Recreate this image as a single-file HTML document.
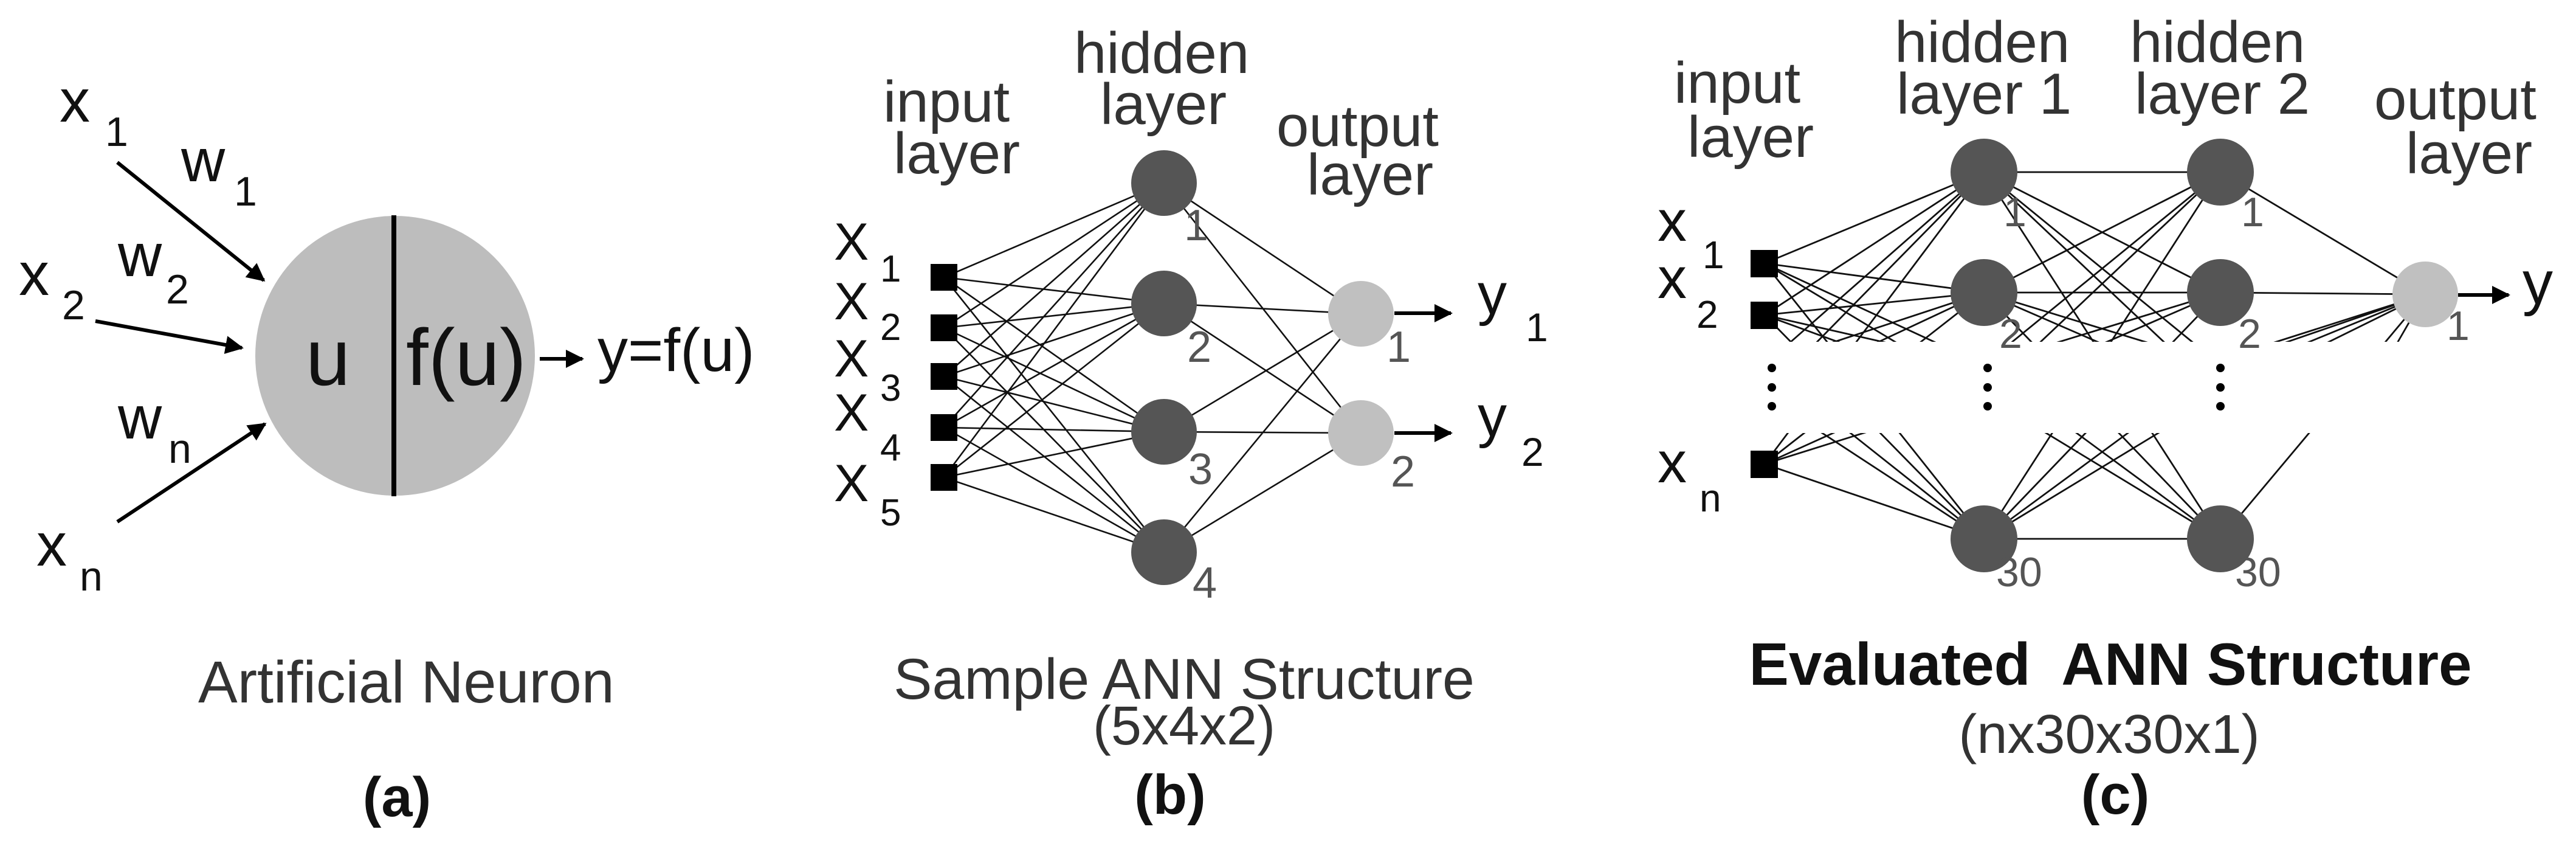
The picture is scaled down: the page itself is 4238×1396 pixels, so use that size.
<!DOCTYPE html>
<html><head><meta charset="utf-8">
<style>
html,body{margin:0;padding:0;background:#fff;}
svg{display:block;}
text{font-family:"Liberation Sans",sans-serif;}
</style></head>
<body>
<svg width="4238" height="1396" viewBox="0 0 4238 1396" xmlns="http://www.w3.org/2000/svg">
<defs>
<marker id="ah" viewBox="0 0 10 10" refX="9" refY="5" markerWidth="5" markerHeight="5" markerUnits="strokeWidth" orient="auto">
<path d="M0,0 L10,5 L0,10 z" fill="#000"/>
</marker>
</defs>
<rect width="4238" height="1396" fill="#fff"/>

<!-- (a) -->
<circle cx="650" cy="585" r="230" fill="#bdbdbd"/>
<line x1="648" y1="354" x2="648" y2="816" stroke="#000" stroke-width="8"/>
<g stroke="#000" stroke-width="6" fill="none">
<line x1="193" y1="267" x2="434" y2="461" marker-end="url(#ah)"/>
<line x1="157" y1="528" x2="398" y2="572" marker-end="url(#ah)"/>
<line x1="193" y1="858" x2="436" y2="697" marker-end="url(#ah)"/>
<line x1="888" y1="590" x2="958" y2="590" marker-end="url(#ah)"/>
</g>
<g fill="#111">
<text x="503" y="633" font-size="132">u</text>
<text x="668" y="633" font-size="132">f(u)</text>
<text x="983" y="610" font-size="100">y=f(u)</text>
<text x="98" y="200" font-size="100">x</text><text x="173" y="240" font-size="68">1</text>
<text x="298" y="298" font-size="100">w</text><text x="385" y="338" font-size="68">1</text>
<text x="31" y="485" font-size="100">x</text><text x="102" y="525" font-size="68">2</text>
<text x="194" y="454" font-size="100">w</text><text x="273" y="499" font-size="68">2</text>
<text x="194" y="721" font-size="100">w</text><text x="277" y="761" font-size="68">n</text>
<text x="60" y="930" font-size="100">x</text><text x="131" y="971" font-size="68">n</text>
</g>
<text x="326" y="1155" font-size="97" fill="#333">Artificial Neuron</text>
<text x="653" y="1342" font-size="92" font-weight="bold" text-anchor="middle" fill="#111">(a)</text>

<!-- (b) -->
<g stroke="#111" stroke-width="2.6">
<path d="M1553,456L1915,301M1553,456L1915,499M1553,456L1915,710M1553,456L1915,908
M1553,539L1915,301M1553,539L1915,499M1553,539L1915,710M1553,539L1915,908
M1553,619L1915,301M1553,619L1915,499M1553,619L1915,710M1553,619L1915,908
M1553,703L1915,301M1553,703L1915,499M1553,703L1915,710M1553,703L1915,908
M1553,785L1915,301M1553,785L1915,499M1553,785L1915,710M1553,785L1915,908
M1915,301L2239,516M1915,301L2239,712M1915,499L2239,516M1915,499L2239,712
M1915,710L2239,516M1915,710L2239,712M1915,908L2239,516M1915,908L2239,712"/>
</g>
<g fill="#000">
<rect x="1531" y="434" width="44" height="44"/>
<rect x="1531" y="517" width="44" height="44"/>
<rect x="1531" y="597" width="44" height="44"/>
<rect x="1531" y="681" width="44" height="44"/>
<rect x="1531" y="763" width="44" height="44"/>
</g>
<g fill="#555">
<circle cx="1915" cy="301" r="54"/><circle cx="1915" cy="499" r="54"/>
<circle cx="1915" cy="710" r="54"/><circle cx="1915" cy="908" r="54"/>
</g>
<g fill="#c0c0c0"><circle cx="2239" cy="516" r="54"/><circle cx="2239" cy="712" r="54"/></g>
<g stroke="#000" stroke-width="6">
<line x1="2294" y1="515" x2="2387" y2="515" marker-end="url(#ah)"/>
<line x1="2294" y1="712" x2="2387" y2="712" marker-end="url(#ah)"/>
</g>
<g fill="#555" font-size="72">
<text x="1948" y="395">1</text><text x="1953" y="595">2</text><text x="1955" y="796">3</text><text x="1962" y="983">4</text>
<text x="2281" y="595">1</text><text x="2288" y="800">2</text>
</g>
<g fill="#111">
<text x="1372" y="427" font-size="86">X</text><text x="1448" y="463" font-size="62">1</text>
<text x="1372" y="525" font-size="86">X</text><text x="1448" y="559" font-size="62">2</text>
<text x="1372" y="619" font-size="86">X</text><text x="1448" y="659" font-size="62">3</text>
<text x="1372" y="708" font-size="86">X</text><text x="1448" y="757" font-size="62">4</text>
<text x="1372" y="824" font-size="86">X</text><text x="1448" y="864" font-size="62">5</text>
<text x="2431" y="516" font-size="96">y</text><text x="2510" y="561" font-size="66">1</text>
<text x="2431" y="717" font-size="96">y</text><text x="2503" y="766" font-size="66">2</text>
</g>
<g fill="#333" font-size="96">
<text x="1453" y="200">input</text><text x="1470" y="285">layer</text>
<text x="1767" y="120">hidden</text><text x="1810" y="204">layer</text>
<text x="2100" y="240">output</text><text x="2150" y="320">layer</text>
</g>
<text x="1948" y="1149" font-size="95" fill="#333" text-anchor="middle">Sample ANN Structure</text>
<text x="1948" y="1224" font-size="90" fill="#333" text-anchor="middle">(5x4x2)</text>
<text x="1925" y="1338" font-size="92" font-weight="bold" text-anchor="middle" fill="#111">(b)</text>

<!-- (c) -->
<g stroke="#111" stroke-width="2.8">
<path d="M2903,433L3264,283M2903,433L3264,481M2903,433L3264,600M2903,433L3264,650M2903,433L3264,886
M2903,518L3264,283M2903,518L3264,481M2903,518L3264,600M2903,518L3264,650M2903,518L3264,886
M2903,600L3264,283M2903,600L3264,481M2903,600L3264,886
M2903,650L3264,283M2903,650L3264,481M2903,650L3264,886
M2903,763L3264,283M2903,763L3264,481M2903,763L3264,600M2903,763L3264,650M2903,763L3264,886
M3264,283L3653,283M3264,283L3653,481M3264,283L3653,600M3264,283L3653,650M3264,283L3653,886
M3264,481L3653,283M3264,481L3653,481M3264,481L3653,600M3264,481L3653,650M3264,481L3653,886
M3264,600L3653,283M3264,600L3653,481M3264,600L3653,886
M3264,650L3653,283M3264,650L3653,481M3264,650L3653,886
M3264,886L3653,283M3264,886L3653,481M3264,886L3653,600M3264,886L3653,650M3264,886L3653,886
M3653,283L3990,484M3653,481L3990,484M3653,600L3990,484M3653,650L3990,484M3653,886L3990,484
M3500,640L3990,484M3560,660L3990,484M3900,640L3990,484"/>
</g>
<rect x="2870" y="562" width="1090" height="150" fill="#fff"/>
<g fill="#000">
<rect x="2880" y="411" width="45" height="45"/>
<rect x="2880" y="496" width="45" height="45"/>
<rect x="2880" y="741" width="45" height="45"/>
<circle cx="2915" cy="605" r="7"/><circle cx="2915" cy="637" r="7"/><circle cx="2915" cy="668" r="7"/>
<circle cx="3270" cy="605" r="7"/><circle cx="3270" cy="637" r="7"/><circle cx="3270" cy="668" r="7"/>
<circle cx="3653" cy="605" r="7"/><circle cx="3653" cy="637" r="7"/><circle cx="3653" cy="668" r="7"/>
</g>
<g fill="#555">
<circle cx="3264" cy="283" r="55"/><circle cx="3264" cy="481" r="55"/><circle cx="3264" cy="886" r="55"/>
<circle cx="3653" cy="283" r="55"/><circle cx="3653" cy="481" r="55"/><circle cx="3653" cy="886" r="55"/>
</g>
<circle cx="3990" cy="484" r="54" fill="#c0c0c0"/>
<line x1="4044" y1="485" x2="4127" y2="485" stroke="#000" stroke-width="6" marker-end="url(#ah)"/>
<g fill="#555" font-size="68">
<text x="3296" y="372">1</text><text x="3289" y="572">2</text><text x="3284" y="964">30</text>
<text x="3687" y="372">1</text><text x="3682" y="572">2</text><text x="3677" y="964">30</text>
<text x="4025" y="559">1</text>
</g>
<g fill="#111">
<text x="2727" y="396" font-size="96">x</text><text x="2801" y="441" font-size="64">1</text>
<text x="2727" y="490" font-size="96">x</text><text x="2791" y="539" font-size="64">2</text>
<text x="2727" y="793" font-size="96">x</text><text x="2796" y="841" font-size="64">n</text>
<text x="4150" y="499" font-size="100">y</text>
</g>
<g fill="#333" font-size="96">
<text x="2754" y="169">input</text><text x="2776" y="258">layer</text>
<text x="3117" y="102">hidden</text><text x="3120" y="187">layer 1</text>
<text x="3504" y="102">hidden</text><text x="3512" y="187">layer 2</text>
<text x="3906" y="196">output</text><text x="3958" y="285">layer</text>
</g>
<text x="3472" y="1126" font-size="98" font-weight="bold" fill="#111" text-anchor="middle" style="white-space:pre" xml:space="preserve">Evaluated  ANN Structure</text>
<text x="3470" y="1238" font-size="90" fill="#333" text-anchor="middle">(nx30x30x1)</text>
<text x="3480" y="1338" font-size="92" font-weight="bold" text-anchor="middle" fill="#111">(c)</text>
</svg>
</body></html>
